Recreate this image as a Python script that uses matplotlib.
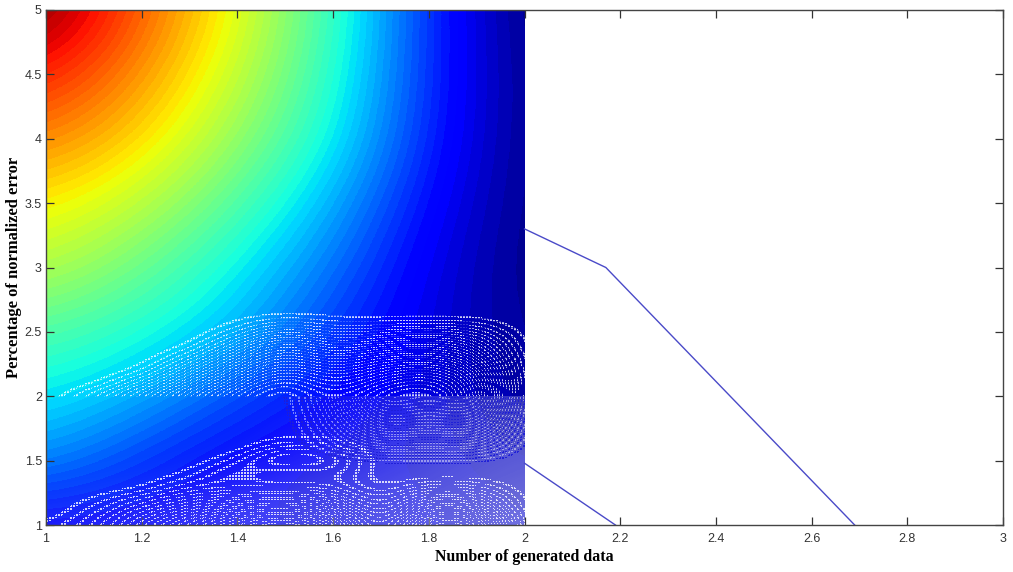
import numpy as np
import matplotlib
matplotlib.use('Agg')
import matplotlib.pyplot as plt
from matplotlib.colors import ListedColormap, LinearSegmentedColormap
from matplotlib.path import Path

# colour surface, 0 = dark blue, 1 = dark red
surf_x = [1.0, 1.2, 1.4, 1.6, 1.8, 2.0]
surf_y = [1.0, 1.5, 2.0, 2.5, 3.0, 3.5, 4.0, 4.5, 5.0]
surf_z = [
    [.11, .11, .11, .11, .10, .08],
    [.27, .18, .11, .10, .09, .06],
    [.36, .30, .20, .125, .09, .03],
    [.45, .39, .31, .18, .09, .02],
    [.57, .48, .365, .24, .10, .01],
    [.66, .58, .45, .30, .13, .01],
    [.77, .68, .53, .37, .16, .01],
    [.88, .75, .59, .40, .17, .01],
    [1.0, .81, .63, .42, .17, .00],
]

# arc counts of the white ripples, upper block (y 2 to 2.7)
rip_x = [1.0, 1.1, 1.2, 1.3, 1.4, 1.5, 1.6, 1.7, 1.8, 1.9, 2.0]
upper_y = [2.0, 2.1, 2.2, 2.3, 2.4, 2.5, 2.6, 2.7]
upper_z = [
    [0, 3, 7, 12, 17, 20, 16, 20, 22, 16, 0],
    [0, .4, 4, 9, 14, 19, 14, 18, 20, 15, 0],
    [0, 0, 1, 6, 11, 16, 12, 15, 17, 13, 0],
    [0, 0, 0, 3, 8, 13, 9, 12, 13, 10, 0],
    [0, 0, 0, .5, 5, 10, 6, 8, 9, 7, 0],
    [0, 0, 0, 0, 2, 6, 3, 4, 5, 4, 0],
    [0, 0, 0, 0, .6, 2, 1, 1, 1, 1, 0],
    [0, 0, 0, 0, 0, 0, 0, 0, 0, 0, 0],
]

# lower block (y 1 to 2), white arcs
lower_y = [1.0, 1.1, 1.2, 1.3, 1.4, 1.5, 1.6, 1.7, 1.8, 1.9, 2.0]
lower_z = [
    [1, 3, 7, 11, 15, 18, 14, 3, 16, 15, 0],
    [0, 2, 5, 8, 11, 13, 10, 2, 11, 10, 0],
    [0, 1, 3, 5, 7, 8, 6, 1, 7, 6, 0],
    [0, 0, .5, 3, 3, 3, 3, 0, 3, 2.5, 0],
    [0, 0, 0, 1, 4, 1, 3, 0, 0, 0, 0],
    [0, 0, 0, 0, 2, 6, 4, 0, 0, 0, 0],
    [0, 0, 0, 0, 0, 3, 2, 0, 0, 0, 0],
    [0, 0, 0, 0, 0, .5, .5, 0, 0, 0, 0],
    [0, 0, 0, 0, 0, 0, 0, 0, 0, 0, 0],
    [0, 0, 0, 0, 0, 0, 0, 0, 0, 0, 0],
    [0, 0, 0, 0, 0, 0, 0, 0, 0, 0, 0],
]

# blue arcs in the middle of the lower block
mid_z = [
    [0, 0, 0, 0, 0, 0, 0, 0, 0, 0, 0],
    [0, 0, 0, 0, 0, 0, 0, 0, 0, 0, 0],
    [0, 0, 0, 0, 0, 0, 0, 0, 0, 0, 0],
    [0, 0, 0, 0, 0, 0, 0, 0, 0, 0, 0],
    [0, 0, 0, 0, 0, 0, 0, 0, 0, 0, 0],
    [0, 0, 0, 0, 0, 0, 0, 1, 1, 1, 0],
    [0, 0, 0, 0, 0, 0, 2, 5, 4, 5, 0],
    [0, 0, 0, 0, 0, 0, 3, 9, 7, 9, 0],
    [0, 0, 0, 0, 0, 0, 4, 13, 10, 13, 0],
    [0, 0, 0, 0, 0, 0, 5, 16, 12, 16, 0],
    [0, 0, 0, 0, 0, 0, 6, 19, 14, 19, 0],
]

# pale haze over the lower block
haze_x = [1.0, 1.2, 1.4, 1.6, 1.8, 2.0]
haze_y = [1.0, 1.2, 1.4, 1.6, 1.8, 2.0]
haze_z = [
    [.15, .25, .35, .45, .50, .65],
    [.05, .15, .28, .40, .50, .60],
    [.00, .02, .12, .30, .42, .55],
    [.00, .00, .03, .20, .40, .50],
    [.00, .00, .00, .12, .32, .42],
    [.00, .00, .00, .03, .20, .30],
]

line1_x = [2.0, 2.17, 2.69]
line1_y = [3.3, 3.0, 1.0]
line2_x = [2.0, 2.19]
line2_y = [1.48, 1.0]

xticks = [1, 1.2, 1.4, 1.6, 1.8, 2, 2.2, 2.4, 2.6, 2.8, 3]
xticklabels = ['1', '1.2', '1.4', '1.6', '1.8', '2', '2.2', '2.4', '2.6', '2.8', '3']
yticks = [1, 1.5, 2, 2.5, 3, 3.5, 4, 4.5, 5]
yticklabels = ['1', '1.5', '2', '2.5', '3', '3.5', '4', '4.5', '5']


def cell_extent(xs, ys):
    # table values sit on cell centres, so push the image half a cell outwards
    dx = (xs[1] - xs[0]) / 2
    dy = (ys[1] - ys[0]) / 2
    return [xs[0] - dx, xs[-1] + dx, ys[0] - dy, ys[-1] + dy]


def box_path(x0, x1, y0, y1):
    return Path([(x0, y0), (x1, y0), (x1, y1), (x0, y1), (x0, y0)], closed=True)


def dot_path(x0, x1, y0, y1, pitch=3.0, size=2.0):
    # lattice of small squares in pixels, turns the arcs into rows of dots
    sx = 2 / 957
    sy = 4 / 515
    verts = []
    codes = []
    for px in np.arange(0, (x1 - x0) / sx, pitch):
        for py in np.arange(0, (y1 - y0) / sy, pitch):
            a = x0 + px * sx
            b = y0 + py * sy
            c = a + size * sx
            d = b + size * sy
            verts += [(a, b), (c, b), (c, d), (a, d), (a, b)]
            codes += [Path.MOVETO, Path.LINETO, Path.LINETO, Path.LINETO, Path.CLOSEPOLY]
    return Path(verts, codes)


def draw_layer(ax, z, xs, ys, cmap, vmin, vmax, clip, zorder):
    im = ax.imshow(z, origin='lower', extent=cell_extent(xs, ys), cmap=cmap, vmin=vmin, vmax=vmax,
                   interpolation='bicubic', interpolation_stage='data', aspect='auto', zorder=zorder)
    im.set_clip_path(clip, transform=ax.transData)
    return im


fig = plt.figure(figsize=(10.13, 5.72), dpi=100)
ax = fig.add_axes([46 / 1013, 47 / 572, 957 / 1013, 515 / 572])

# stripes: clear steps then one coloured step, repeated
clear = (1, 1, 1, 0)
white_cmap = ListedColormap([clear, clear, (1, 1, 1, .8)] * 30)
white_cmap.set_under(clear)
pale_cmap = ListedColormap([clear, clear, (1, 1, 1, .45)] * 30)
pale_cmap.set_under(clear)
blue_cmap = ListedColormap([clear, clear, (.12, .12, .85, .95)] * 30)
blue_cmap.set_under(clear)
haze_cmap = LinearSegmentedColormap.from_list('haze', [(.72, .72, .9, 0), (.72, .72, .9, 1)])

draw_layer(ax, surf_z, surf_x, surf_y, plt.get_cmap('jet', 64), 0, 1, box_path(1, 2, 1, 5), 1)
draw_layer(ax, haze_z, haze_x, haze_y, haze_cmap, 0, 1, box_path(1, 2, 1, 2), 2)
draw_layer(ax, upper_z, rip_x, upper_y, white_cmap, 0.4, 20.4, dot_path(1, 2, 2, 2.7), 3)
draw_layer(ax, lower_z, rip_x, lower_y, white_cmap, 0.4, 20.4, dot_path(1, 2, 1, 2), 3)
draw_layer(ax, mid_z, rip_x, lower_y, blue_cmap, 0.4, 20.4, dot_path(1, 2, 1, 2), 3)
draw_layer(ax, mid_z, rip_x, lower_y, pale_cmap, 0.75, 20.75, dot_path(1, 2, 1, 2), 3)

ax.plot(line1_x, line1_y, color='#4a4ac8', lw=1, zorder=4)
ax.plot(line2_x, line2_y, color='#4a4ac8', lw=1, zorder=4)

ax.set_xlim(1, 3)
ax.set_ylim(1, 5)
ax.set_xticks(xticks)
ax.set_xticklabels(xticklabels)
ax.set_yticks(yticks)
ax.set_yticklabels(yticklabels)
ax.tick_params(direction='in', length=5.5, width=0.9, top=True, right=True, color='#333333',
               labelcolor='#333333', labelsize=9)
ax.tick_params(axis='x', pad=5.5)
ax.tick_params(axis='y', pad=3)
for lab in ax.get_xticklabels() + ax.get_yticklabels():
    lab.set_family('Liberation Sans')
for sp in ax.spines.values():
    sp.set_color('#444444')
    sp.set_linewidth(1)
    sp.set_zorder(5)

ax.set_xlabel('Number of generated data', family='Liberation Serif', weight='bold', fontsize=11.4, labelpad=3)
ax.set_ylabel('Percentage of normalized error', family='Liberation Serif', weight='bold', fontsize=12, labelpad=2)

fig.savefig('out.png', dpi=100)
